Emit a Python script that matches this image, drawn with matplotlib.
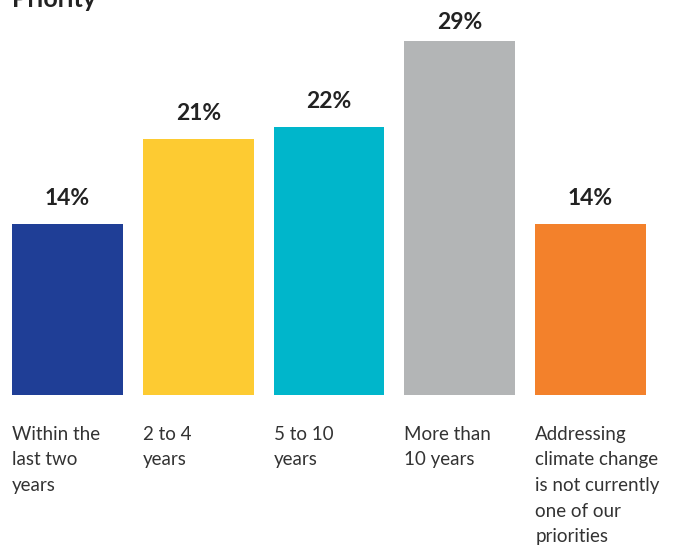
import matplotlib
matplotlib.use("Agg")
import matplotlib.pyplot as plt

categories = [
    "Within the\nlast two\nyears",
    "2 to 4\nyears",
    "5 to 10\nyears",
    "More than\n10 years",
    "Addressing\nclimate change\nis not currently\none of our\npriorities",
]
values = [14, 21, 22, 29, 14]
colors = ["#1f3e96", "#fdcb32", "#00b6cb", "#b3b5b6", "#f3812b"]

W, H = 678, 545
fig = plt.figure(figsize=(W / 100, H / 100), dpi=100)
plt.rcParams['font.family'] = ['Lato', 'DejaVu Sans']

# plot area: bars span x 12..646 px, baseline at y=395 px
ax = fig.add_axes([12 / W, (H - 395) / H, 634 / W, 395 / H])
width = 0.847
xs = range(len(values))
ax.bar(xs, values, width=width, color=colors)
ax.set_xlim(-width / 2, len(values) - 1 + width / 2)
ax.set_ylim(0, 395 / 12.2)
ax.axis("off")

# value labels sit a fixed gap above the bar, but never run into the top edge
pad = 1.55
ceiling = 30.0
for x, v in zip(xs, values):
    ax.text(x, min(v + pad, ceiling), f"{v}%", ha="center", va="baseline",
            fontsize=16.5, fontweight="bold", color="#222222")

for x, lab in zip(xs, categories):
    ax.annotate(lab, (x - width / 2, 0), xytext=(0, -22), textcoords="offset points",
                ha="left", va="top", fontsize=13.5, color="#333333",
                linespacing=1.62, annotation_clip=False)

fig.text(12 / W, 1 - 7 / H, "Priority", ha="left", va="baseline",
         fontsize=18, fontweight="bold", color="#222222")

fig.savefig("out.png", dpi=100)
